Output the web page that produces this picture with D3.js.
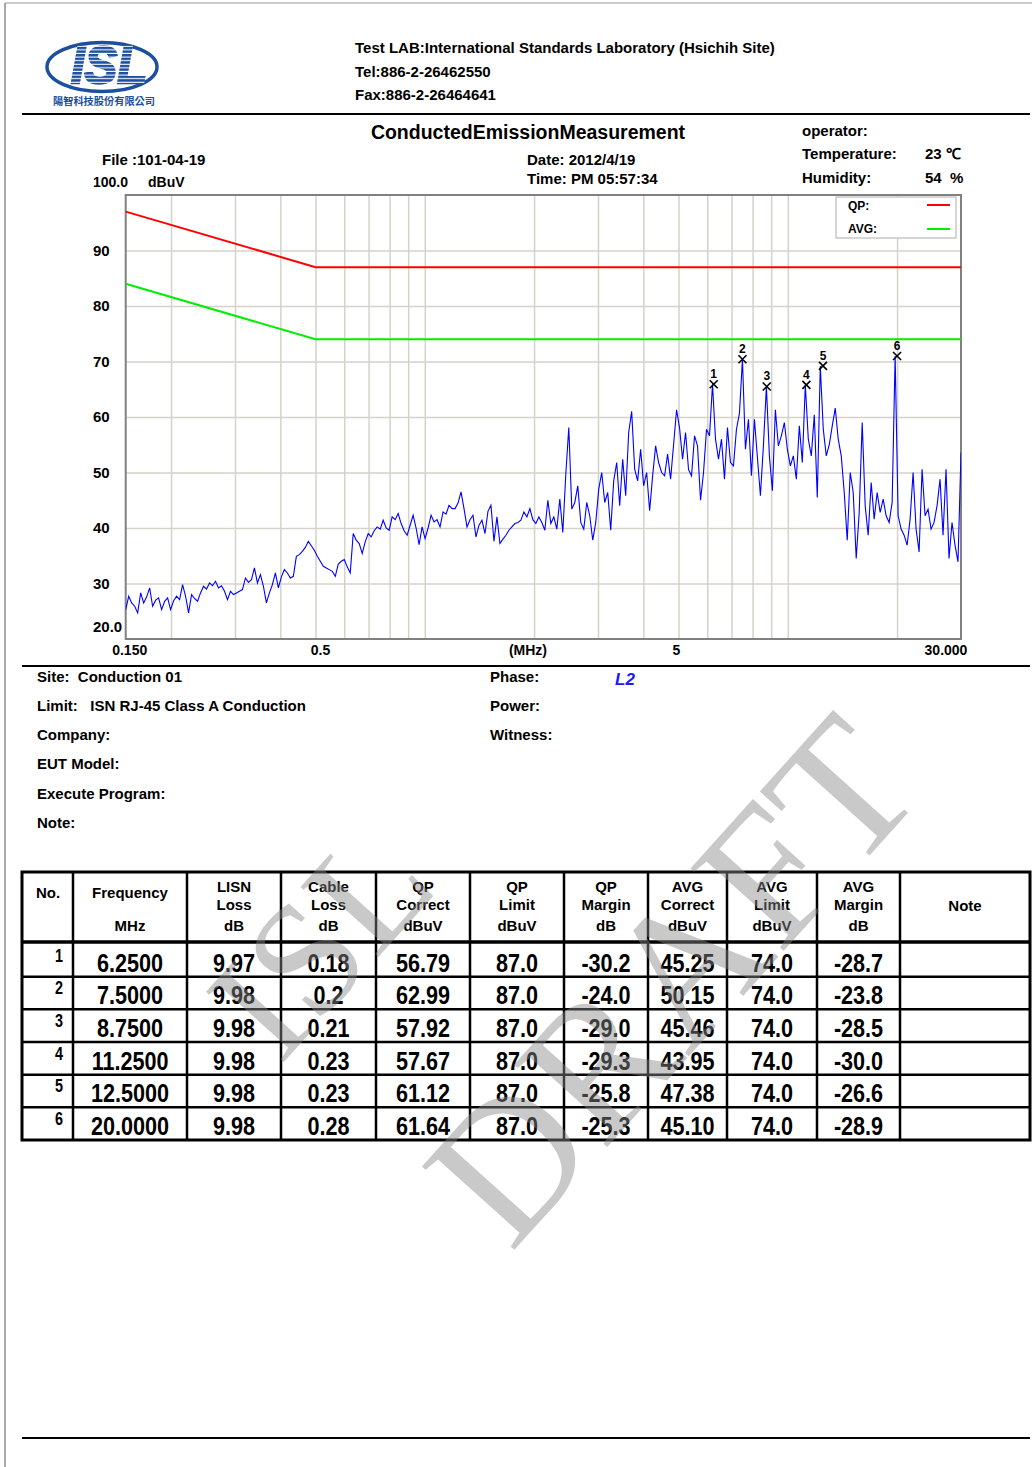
<!DOCTYPE html>
<html>
<head>
<meta charset="utf-8">
<script src="https://cdn.jsdelivr.net/npm/d3@7"></script>
<style>
  body { margin: 0; background: #fff; }
  svg { display: block; }
  text { font-family: "Liberation Sans", Arial, sans-serif; font-weight: bold; white-space: pre; }
  text.wm { font-family: "Liberation Serif", "DejaVu Serif", serif; font-weight: normal; }
</style>
</head>
<body>
<svg id="report"></svg>
<script>
/* ---------- data ---------- */
// receiver sweep, log spaced points from 0.15 to 30 MHz, peak levels in dBuV
const sweepStart = 0.15, sweepStop = 30;
const traceLevels = [
  25.3, 27.7, 26.5, 25.9, 24.7, 28.3, 26.5, 27.6, 29.2, 25.9,
  27.0, 27.4, 25.3, 26.8, 27.4, 25.3, 26.9, 27.7, 27.1, 29.8,
  27.7, 24.7, 28.0, 27.3, 26.8, 28.3, 29.5, 29.0, 30.1, 29.6,
  30.4, 29.2, 29.6, 28.6, 27.1, 28.6, 28.0, 28.3, 28.6, 28.9,
  31.0, 30.2, 30.7, 32.8, 30.1, 31.6, 29.5, 26.5, 28.3, 29.8,
  31.9, 29.2, 31.2, 32.5, 31.9, 31.0, 31.3, 34.9, 35.2, 35.8,
  36.5, 37.6, 36.8, 36.0, 34.9, 34.0, 33.1, 32.8, 32.5, 32.2,
  31.3, 33.5, 34.0, 34.3, 33.0, 31.9, 39.0, 37.8, 37.2, 35.4,
  37.5, 39.0, 38.4, 39.5, 40.2, 39.8, 41.4, 40.0, 39.6, 42.0,
  41.5, 42.6, 40.8, 39.5, 38.7, 40.5, 42.3, 40.0, 37.0, 40.2,
  38.1, 40.0, 42.3, 41.1, 41.5, 40.2, 42.9, 42.5, 44.1, 43.5,
  43.5, 44.5, 46.5, 43.5, 40.2, 41.5, 42.3, 38.4, 40.5, 41.4,
  39.0, 43.0, 44.1, 37.6, 42.0, 37.2, 38.0, 38.7, 39.6, 40.2,
  40.8, 41.0, 41.4, 42.9, 42.0, 43.5, 41.5, 40.8, 42.0, 41.0,
  39.6, 45.0, 40.8, 42.0, 39.8, 45.2, 39.2, 49.7, 58.1, 43.4,
  44.6, 47.6, 41.0, 39.8, 44.6, 42.2, 37.8, 41.0, 47.0, 50.0,
  44.6, 46.4, 39.6, 48.5, 51.8, 44.0, 52.4, 45.8, 57.2, 61.0,
  50.6, 48.5, 54.2, 47.6, 50.0, 43.1, 49.4, 54.8, 51.8, 50.0,
  49.4, 53.3, 48.8, 55.0, 61.3, 58.0, 52.4, 57.2, 50.5, 49.4,
  56.6, 54.8, 45.0, 50.0, 57.8, 56.6, 65.9, 56.0, 52.4, 56.0,
  48.8, 58.1, 51.8, 51.2, 57.8, 60.7, 70.4, 54.2, 59.6, 49.4,
  59.6, 52.7, 45.8, 54.8, 65.5, 53.0, 46.7, 61.3, 54.8, 56.6,
  59.0, 54.2, 51.2, 53.0, 48.8, 58.4, 51.8, 65.8, 56.0, 53.0,
  60.4, 45.5, 69.2, 57.8, 53.0, 55.0, 58.4, 61.6, 56.0, 53.0,
  46.4, 37.8, 50.0, 46.4, 34.5, 42.8, 59.0, 44.0, 38.7, 48.2,
  41.6, 46.4, 42.8, 45.2, 42.2, 41.0, 44.6, 71.0, 42.2, 39.8,
  38.7, 36.9, 41.6, 50.0, 39.8, 35.7, 50.6, 42.2, 43.4, 39.8,
  41.0, 44.0, 48.8, 38.7, 50.6, 34.5, 41.0, 36.9, 33.9, 53.6
];

const qpLimit  = [[0.15, 97], [0.5, 87], [30, 87]];
const avgLimit = [[0.15, 84], [0.5, 74], [30, 74]];

const markerNo   = [1, 2, 3, 4, 5, 6];
const markerFreq = [6.25, 7.5, 8.75, 11.25, 12.5, 20];
const markerPeak = [65.9, 70.4, 65.5, 65.8, 69.2, 71.0];

const yGrid   = [30, 40, 50, 60, 70, 80, 90];
const yLabels = ["30", "40", "50", "60", "70", "80", "90"];
const xGrid   = [0.2, 0.3, 0.4, 0.5, 0.6, 0.7, 0.8, 0.9, 1, 2, 3, 4, 5, 6, 7, 8, 9, 10, 20];
const xLabelAt   = [0.15, 0.5, 5, 30];
const xLabelText = ["0.150", "0.5", "5", "30.000"];

// table
const colHead = [
  ["No."], ["Frequency", "", "MHz"], ["LISN", "Loss", "dB"], ["Cable", "Loss", "dB"],
  ["QP", "Correct", "dBuV"], ["QP", "Limit", "dBuV"], ["QP", "Margin", "dB"],
  ["AVG", "Correct", "dBuV"], ["AVG", "Limit", "dBuV"], ["AVG", "Margin", "dB"], ["Note"]
];
const freqMHz    = ["6.2500", "7.5000", "8.7500", "11.2500", "12.5000", "20.0000"];
const lisnLoss   = ["9.97", "9.98", "9.98", "9.98", "9.98", "9.98"];
const cableLoss  = ["0.18", "0.2", "0.21", "0.23", "0.23", "0.28"];
const qpCorrect  = ["56.79", "62.99", "57.92", "57.67", "61.12", "61.64"];
const qpLimitCol = ["87.0", "87.0", "87.0", "87.0", "87.0", "87.0"];
const qpMargin   = ["-30.2", "-24.0", "-29.0", "-29.3", "-25.8", "-25.3"];
const avgCorrect = ["45.25", "50.15", "45.46", "43.95", "47.38", "45.10"];
const avgLimitCol= ["74.0", "74.0", "74.0", "74.0", "74.0", "74.0"];
const avgMargin  = ["-28.7", "-23.8", "-28.5", "-30.0", "-26.6", "-28.9"];

/* ---------- setup ---------- */
const W = 1032, H = 1467;
const svg = d3.select("#report").attr("width", W).attr("height", H);
svg.append("rect").attr("width", W).attr("height", H).attr("fill", "#fff");

const defs = svg.append("defs");
const pat = defs.append("pattern").attr("id", "stripes")
  .attr("patternUnits", "userSpaceOnUse").attr("width", 10).attr("height", 3.6);
pat.append("rect").attr("width", 10).attr("height", 3.6).attr("fill", "#fff");
pat.append("rect").attr("width", 10).attr("height", 2.5).attr("fill", "#1d4f9e");

// page frame + rules
svg.append("line").attr("x1", 5).attr("x2", 5).attr("y1", 3).attr("y2", H).attr("stroke", "#555").attr("stroke-width", 1);
svg.append("line").attr("x1", 5).attr("x2", W).attr("y1", 3).attr("y2", 3).attr("stroke", "#999").attr("stroke-width", 1);
[114, 666, 1438].forEach(yy => {
  svg.append("line").attr("x1", 22).attr("x2", 1030).attr("y1", yy).attr("y2", yy)
    .attr("stroke", "#000").attr("stroke-width", 2);
});

/* ---------- logo + header ---------- */
const logo = svg.append("g");
logo.append("ellipse").attr("cx", 102).attr("cy", 67).attr("rx", 55).attr("ry", 24.5)
  .attr("fill", "none").attr("stroke", "#1d4f9e").attr("stroke-width", 3.5);
logo.append("text").attr("x", 109).attr("y", 83).attr("text-anchor", "middle")
  .attr("font-size", 52).attr("font-style", "italic")
  .attr("textLength", 76).attr("lengthAdjust", "spacingAndGlyphs")
  .attr("fill", "url(#stripes)").attr("stroke", "url(#stripes)").attr("stroke-width", 2.4)
  .text("ISL");
logo.append("text").attr("x", 104).attr("y", 105).attr("text-anchor", "middle")
  .style("font-family", "'Noto Sans CJK TC', sans-serif").attr("font-size", 10)
  .attr("textLength", 102).attr("lengthAdjust", "spacingAndGlyphs")
  .attr("fill", "#1d4f9e").text("陽智科技股份有限公司");

const head = svg.append("g").attr("font-size", 15);
[["Test LAB:International Standards Laboratory (Hsichih Site)", 53],
 ["Tel:886-2-26462550", 77],
 ["Fax:886-2-26464641", 100]].forEach(([t, yy]) => {
  head.append("text").attr("x", 355).attr("y", yy).text(t);
});

const meta = svg.append("g").attr("font-size", 15);
meta.append("text").attr("x", 528).attr("y", 139).attr("text-anchor", "middle")
  .attr("font-size", 19.5).text("ConductedEmissionMeasurement");
meta.append("text").attr("x", 802).attr("y", 136).text("operator:");
meta.append("text").attr("x", 802).attr("y", 159).text("Temperature:");
meta.append("text").attr("x", 925).attr("y", 159).text("23 ℃");
meta.append("text").attr("x", 802).attr("y", 183).text("Humidity:");
meta.append("text").attr("x", 925).attr("y", 183).text("54  %");
meta.append("text").attr("x", 102).attr("y", 165).text("File :101-04-19");
meta.append("text").attr("x", 527).attr("y", 165).text("Date: 2012/4/19");
meta.append("text").attr("x", 527).attr("y", 184).text("Time: PM 05:57:34");
meta.append("text").attr("x", 93).attr("y", 187).attr("font-size", 14).text("100.0");
meta.append("text").attr("x", 148).attr("y", 187).attr("font-size", 14).text("dBuV");

/* ---------- chart ---------- */
const plot = { left: 125.7, right: 961, top: 195, bottom: 639 };
const x = d3.scaleLog().domain([0.15, 30]).range([plot.left, plot.right]);
const y = d3.scaleLinear().domain([20, 100]).range([plot.bottom, plot.top]);

const chart = svg.append("g");
defs.append("clipPath").attr("id", "plotClip").append("rect")
  .attr("x", plot.left).attr("y", plot.top)
  .attr("width", plot.right - plot.left).attr("height", plot.bottom - plot.top);

// grid via axes
const gx = chart.append("g").attr("transform", `translate(0,${plot.bottom})`)
  .call(d3.axisBottom(x).tickValues(xGrid).tickSize(-(plot.bottom - plot.top)).tickFormat(""));
const gy = chart.append("g").attr("transform", `translate(${plot.left},0)`)
  .call(d3.axisLeft(y).tickValues(yGrid).tickSize(-(plot.right - plot.left)).tickFormat(""));
[gx, gy].forEach(g => {
  g.select(".domain").remove();
  g.selectAll(".tick line").attr("stroke", "#d6d2ca").attr("stroke-width", 1.5);
});

chart.append("rect").attr("x", plot.left).attr("y", plot.top)
  .attr("width", plot.right - plot.left).attr("height", plot.bottom - plot.top)
  .attr("fill", "none").attr("stroke", "#808080").attr("stroke-width", 2);

// axis labels
chart.append("g").attr("font-size", 15)
  .selectAll("text").data(yGrid).enter().append("text")
  .attr("x", 93).attr("y", d => y(d) + 5).text((d, i) => yLabels[i]);
chart.append("text").attr("font-size", 15).attr("x", 93).attr("y", 632).text("20.0");

const xNudge = [4, 5, -2, -15];
const xl = chart.append("g").attr("font-size", 14).attr("text-anchor", "middle");
xl.selectAll("text").data(xLabelAt).enter().append("text")
  .attr("x", (d, i) => x(d) + xNudge[i])
  .attr("y", 655).text((d, i) => xLabelText[i]);
xl.append("text").attr("x", 528).attr("y", 655).text("(MHz)");

// limits
const limLine = d3.line().x(d => x(d[0])).y(d => y(d[1]));
chart.append("path").datum(qpLimit).attr("d", limLine)
  .attr("fill", "none").attr("stroke", "#ff0000").attr("stroke-width", 2);
chart.append("path").datum(avgLimit).attr("d", limLine)
  .attr("fill", "none").attr("stroke", "#00ee00").attr("stroke-width", 2);

// trace
const n = traceLevels.length;
const trace = traceLevels.map((v, i) => [sweepStart * Math.pow(sweepStop / sweepStart, i / (n - 1)), v]);
chart.append("path").datum(trace).attr("clip-path", "url(#plotClip)")
  .attr("d", d3.line().x(d => x(d[0])).y(d => y(d[1])))
  .attr("fill", "none").attr("stroke", "#0000ff").attr("stroke-width", 1.1);

// markers
const mk = chart.append("g").selectAll("g").data(markerNo).enter().append("g")
  .attr("transform", (d, i) => `translate(${x(markerFreq[i])},${y(markerPeak[i])})`);
mk.append("path").attr("d", "M-4,-4L4,4M4,-4L-4,4").attr("stroke", "#000").attr("stroke-width", 1.6);
mk.append("text").attr("y", -6).attr("text-anchor", "middle").attr("font-size", 12).text(d => d);

// legend
const leg = chart.append("g");
leg.append("rect").attr("x", 836).attr("y", 197).attr("width", 120).attr("height", 41)
  .attr("fill", "#fff").attr("stroke", "#c8c8c8").attr("stroke-width", 1.5);
leg.append("text").attr("x", 848).attr("y", 210).attr("font-size", 12).text("QP:");
leg.append("text").attr("x", 848).attr("y", 233).attr("font-size", 12).text("AVG:");
leg.append("line").attr("x1", 927).attr("x2", 950).attr("y1", 205).attr("y2", 205).attr("stroke", "#ff0000").attr("stroke-width", 2);
leg.append("line").attr("x1", 927).attr("x2", 950).attr("y1", 229).attr("y2", 229).attr("stroke", "#00ee00").attr("stroke-width", 2);

/* ---------- info block ---------- */
const info = svg.append("g").attr("font-size", 15);
[["Site:  Conduction 01", 682], ["Limit:   ISN RJ-45 Class A Conduction", 711],
 ["Company:", 740], ["EUT Model:", 769], ["Execute Program:", 799], ["Note:", 828]]
  .forEach(([t, yy]) => info.append("text").attr("x", 37).attr("y", yy).text(t));
[["Phase:", 682], ["Power:", 711], ["Witness:", 740]]
  .forEach(([t, yy]) => info.append("text").attr("x", 490).attr("y", yy).text(t));
info.append("text").attr("x", 615).attr("y", 685).attr("font-size", 17)
  .attr("font-style", "italic").attr("fill", "#1a1aff").text("L2");

/* ---------- table ---------- */
const colX = [22, 73, 187, 281, 376, 470, 564, 648, 727, 817, 900, 1030];
const tTop = 872, tHead = 942, tBot = 1140;
const tbl = svg.append("g");

tbl.append("rect").attr("x", colX[0]).attr("y", tTop).attr("width", colX[11] - colX[0]).attr("height", tBot - tTop)
  .attr("fill", "none").attr("stroke", "#000").attr("stroke-width", 3);
colX.slice(1, -1).forEach(cx => {
  tbl.append("line").attr("x1", cx).attr("x2", cx).attr("y1", tTop).attr("y2", tBot)
    .attr("stroke", "#000").attr("stroke-width", 2.5);
});
const rowY = d3.range(0, 7).map(k => tHead + 2 + k * (tBot - tHead - 2) / 6);
rowY.slice(0, 6).forEach((yy, k) => {
  tbl.append("line").attr("x1", colX[0]).attr("x2", colX[11])
    .attr("y1", k === 0 ? tHead : yy).attr("y2", k === 0 ? tHead : yy)
    .attr("stroke", "#000").attr("stroke-width", k === 0 ? 3.5 : 2.5);
});

// header
colHead.forEach((lines, c) => {
  const cx = (colX[c] + colX[c + 1]) / 2;
  let ys;
  if (lines.length === 1) ys = c === 0 ? [898] : [911];
  else ys = lines[1] === "" ? [898, 0, 931] : [892, 910, 931];
  lines.forEach((t, j) => {
    if (!t) return;
    tbl.append("text").attr("x", c === 0 ? 36 : cx).attr("y", ys[j])
      .attr("text-anchor", c === 0 ? "start" : "middle").attr("font-size", 15).text(t);
  });
});

// rows (condensed digits)
const cols = [freqMHz, lisnLoss, cableLoss, qpCorrect, qpLimitCol, qpMargin, avgCorrect, avgLimitCol, avgMargin];
markerNo.forEach((no, r) => {
  const yb = rowY[r + 1];
  tbl.append("text").attr("transform", `translate(63,${yb - 15}) scale(0.8,1)`)
    .attr("text-anchor", "end").attr("font-size", 18).text(no);
  cols.forEach((arr, c) => {
    const cx = (colX[c + 1] + colX[c + 2]) / 2;
    tbl.append("text").attr("transform", `translate(${cx},${yb - 5}) scale(0.83,1)`)
      .attr("text-anchor", "middle").attr("font-size", 26).text(arr[r]);
  });
});

/* ---------- watermark ---------- */
const wm = svg.append("g").attr("transform", "translate(670,980) rotate(-48)")
  .attr("opacity", 0.45).attr("pointer-events", "none");
wm.append("text").attr("class", "wm").attr("x", -205).attr("y", -232).attr("text-anchor", "middle")
  .attr("font-size", 160).attr("fill", "#8a8a8a").text("ISL");
wm.append("text").attr("class", "wm").attr("x", -310).attr("y", 65)
  .attr("font-size", 190).attr("fill", "#8a8a8a").text("DRAFT");
</script>
</body>
</html>
